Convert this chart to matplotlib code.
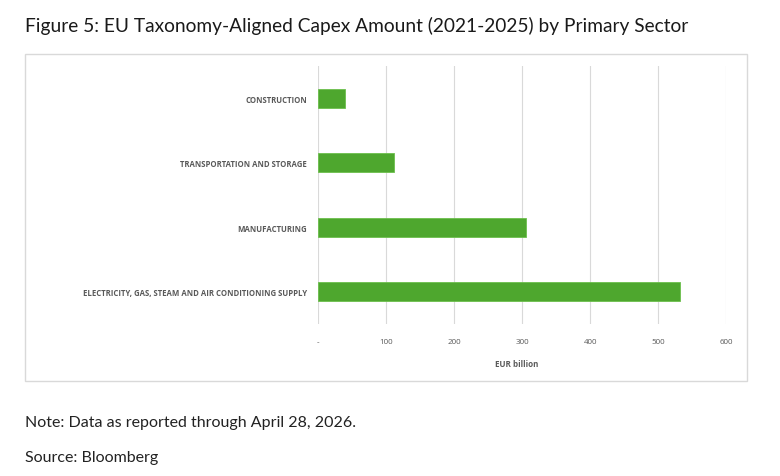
"""EU taxonomy-aligned capex by primary sector, horizontal bar chart"""
import matplotlib.pyplot as plt
from matplotlib.patches import Rectangle

sectors = ['CONSTRUCTION', 'TRANSPORTATION AND STORAGE', 'MANUFACTURING',
           'ELECTRICITY, GAS, STEAM AND AIR CONDITIONING SUPPLY']
capex = [39, 112, 306, 532]
xticks = [0, 100, 200, 300, 400, 500, 600]
xticklabels = ['-', '100', '200', '300', '400', '500', '600']

W, H = 780, 477
fig = plt.figure(figsize=(W / 100, H / 100), dpi=100)

# outer frame around the chart
fig.patches.append(Rectangle((25 / W, 1 - 382 / H), 722 / W, 327 / H,
                             transform=fig.transFigure, fill=False,
                             edgecolor='#d9d9d9', linewidth=1))

ax = fig.add_axes([318.3 / W, 1 - 325 / H, 408 / W, 258 / H])
ypos = list(range(len(sectors)))
ax.barh(ypos, capex, height=0.3, color='#4ea72e', edgecolor='#6cbf4c',
        linewidth=0.6, zorder=3)
ax.set_ylim(3.5, -0.5)
ax.set_xlim(0, 600)
ax.set_yticks(ypos)
ax.set_yticklabels(sectors, fontsize=5.6, fontweight='bold', color='#595959',
                   family='Open Sans')
ax.set_xticks(xticks)
ax.set_xticklabels(xticklabels, fontsize=5.8, color='#595959', family='Open Sans')
ax.tick_params(length=0, pad=10)
ax.tick_params(axis='y', pad=8)
ax.grid(axis='x', color='#d9d9d9', linewidth=0.8, zorder=0)
for s in ax.spines.values():
    s.set_visible(False)
ax.set_xlabel('EUR billion', fontsize=5.8, fontweight='bold', color='#595959',
              family='Open Sans', labelpad=9)
ax.xaxis.set_label_coords(0.487, -0.135)

fig.text(25 / W, 1 - 32 / H,
         'Figure 5: EU Taxonomy-Aligned Capex Amount (2021-2025) by Primary Sector',
         fontsize=13.8, family='Lato', color='#1a1a1a', va='baseline')
fig.text(25 / W, 1 - 427 / H, 'Note: Data as reported through April 28, 2026.',
         fontsize=11.5, family='Lato', color='#222222', va='baseline')
fig.text(25 / W, 1 - 462 / H, 'Source: Bloomberg',
         fontsize=11.5, family='Lato', color='#222222', va='baseline')

fig.savefig('out.png', dpi=100)
